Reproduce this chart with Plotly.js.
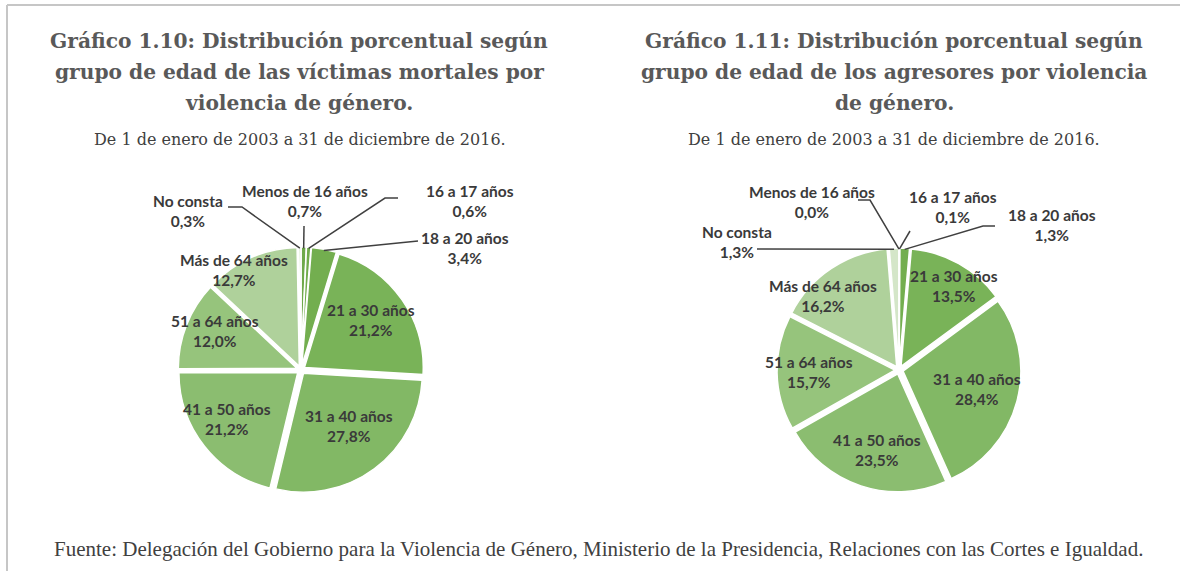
<!DOCTYPE html>
<html><head><meta charset="utf-8">
<script src="https://cdn.plot.ly/plotly-3.0.1.min.js"></script>
<style>html,body{margin:0;padding:0;background:#fff;}#chart{width:1180px;height:571px;}</style>
</head><body><div id="chart"></div>
<script>
// ---------------- DATA ----------------
const categories = ["Menos de 16 años","16 a 17 años","18 a 20 años","21 a 30 años","31 a 40 años","41 a 50 años","51 a 64 años","Más de 64 años","No consta"];
const victimas = [0.7, 0.6, 3.4, 21.2, 27.8, 21.2, 12.0, 12.7, 0.3];
const agresores = [0.0, 0.1, 1.3, 13.5, 28.4, 23.5, 15.7, 16.2, 1.3];
const title1Lines = ["Gráfico 1.10: Distribución porcentual según", "grupo de edad de las víctimas mortales por", "violencia de género."];
const title2Lines = ["Gráfico 1.11: Distribución porcentual según", "grupo de edad de los agresores por violencia", "de género."];
const subtitle = "De 1 de enero de 2003 a 31 de diciembre de 2016.";
const source = "Fuente: Delegación del Gobierno para la Violencia de Género, Ministerio de la Presidencia, Relaciones con las Cortes e Igualdad.";

// ---------------- STYLE ----------------
const W = 1180, H = 571;
const colors = ["#6ea94a","#71ac4c","#73ae4f","#79b358","#82b865","#8bbd70","#96c47c","#afd19b","#d4e6c8"];
const PULL = 0.035;
const labelFont = {family: "Lato, 'Open Sans', sans-serif", size: 15.5, color: "#3a3a3a", weight: "bold"};
const pies = [
  {values: victimas, cx: 301, cy: 370, R: 123,
   inside: {3: [-1, 0.70], 4: [-4, 0.60], 5: [5, 0.72], 6: [3, 0.77], 7: [-10, 0.98]},
   // outside: label centre, line start, elbow end x (null = none)
   outside: {0: {l: [305, 201], s: [304, 226], e: null},
             1: {l: [470, 201], s: [398, 198], e: 385},
             2: {l: [465, 248], s: [418, 241], e: null},
             8: {l: [188, 211], s: [228, 207], e: 242}}},
  {values: agresores, cx: 899, cy: 370, R: 122,
   inside: {3: [4, 0.82], 4: [-1, 0.66], 5: [-3, 0.68], 6: [0, 0.74], 7: [-12, 0.87]},
   outside: {0: {l: [812, 202], s: [858, 200], e: 870},
             1: {l: [953, 207], s: [910, 231], e: null},
             2: {l: [1052, 225], s: [995, 226], e: 983},
             8: {l: [737, 242], s: [757, 249], e: null}}}
];

function fmt(v){ return v.toFixed(1).replace('.', ','); }
function px(x){ return x / W; }
function py(y){ return 1 - y / H; }

const traces = [], annotations = [], shapes = [];
pies.forEach((p) => {
  traces.push({
    type: 'pie', values: p.values, labels: categories, sort: false, direction: 'clockwise', rotation: 0,
    marker: {colors: colors, line: {color: '#ffffff', width: 1.5}},
    pull: p.values.map(() => PULL), textinfo: 'none', hoverinfo: 'label+percent', showlegend: false,
    domain: {x: [px(p.cx - p.R), px(p.cx + p.R)], y: [py(p.cy + p.R), py(p.cy - p.R)]}
  });
  const total = p.values.reduce((a, b) => a + b, 0);
  let cum = 0;
  p.values.forEach((v, i) => {
    const midDeg = (cum + v / 2) / total * 360;
    cum += v;
    const text = categories[i] + "<br>" + fmt(v) + "%";
    if (p.inside[i]) {
      const [dA, rf] = p.inside[i];
      const a = (midDeg + dA) * Math.PI / 180;
      const x = p.cx + rf * p.R * Math.sin(a), y = p.cy - rf * p.R * Math.cos(a);
      annotations.push({x: px(x), y: py(y), xref: 'paper', yref: 'paper', text: text, showarrow: false,
        font: labelFont, xanchor: 'center', yanchor: 'middle'});
    } else if (p.outside[i]) {
      const o = p.outside[i];
      annotations.push({x: px(o.l[0]), y: py(o.l[1]), xref: 'paper', yref: 'paper', text: text, showarrow: false,
        font: labelFont, xanchor: 'center', yanchor: 'middle'});
      const a = midDeg * Math.PI / 180;
      const rTip = p.R * 0.99;
      const tx = p.cx + rTip * Math.sin(a), ty = p.cy - rTip * Math.cos(a);
      let path = `M ${px(o.s[0])} ${py(o.s[1])}`;
      if (o.e !== null) path += ` L ${px(o.e)} ${py(o.s[1])}`;
      path += ` L ${px(tx)} ${py(ty)}`;
      shapes.push({type: 'path', xref: 'paper', yref: 'paper', path: path, line: {color: '#404040', width: 1.5}});
    }
  });
});

const titleFont = {family: "'DejaVu Serif', serif", size: 20.2, color: "#595959", weight: "bold"};
const subFont = {family: "'DejaVu Serif', serif", size: 16, color: "#404040"};
const lineY = [41, 72, 103];
title1Lines.forEach((t, k) => annotations.push({x: px(299), y: py(lineY[k]), xref: 'paper', yref: 'paper', text: t, showarrow: false, font: titleFont, xanchor: 'center', yanchor: 'middle'}));
title2Lines.forEach((t, k) => annotations.push({x: px(894), y: py(lineY[k]), xref: 'paper', yref: 'paper', text: t, showarrow: false, font: titleFont, xanchor: 'center', yanchor: 'middle'}));
annotations.push({x: px(300), y: py(140), xref: 'paper', yref: 'paper', text: subtitle, showarrow: false, font: subFont, xanchor: 'center', yanchor: 'middle'});
annotations.push({x: px(894), y: py(140), xref: 'paper', yref: 'paper', text: subtitle, showarrow: false, font: subFont, xanchor: 'center', yanchor: 'middle'});
annotations.push({x: px(598), y: py(549), xref: 'paper', yref: 'paper', text: source, showarrow: false, font: {family: "'Liberation Serif', serif", size: 21, color: "#404040"}, xanchor: 'center', yanchor: 'middle'});

// frame
shapes.push({type: 'line', xref: 'paper', yref: 'paper', x0: px(7), x1: 1, y0: py(5), y1: py(5), line: {color: '#c6c6c6', width: 2}});
shapes.push({type: 'line', xref: 'paper', yref: 'paper', x0: px(7), x1: px(7), y0: py(5), y1: 0, line: {color: '#c6c6c6', width: 2}});

Plotly.newPlot('chart', traces, {
  width: W, height: H, margin: {l: 0, r: 0, t: 0, b: 0},
  paper_bgcolor: '#ffffff', annotations: annotations, shapes: shapes, showlegend: false
}, {staticPlot: true});
</script></body></html>
